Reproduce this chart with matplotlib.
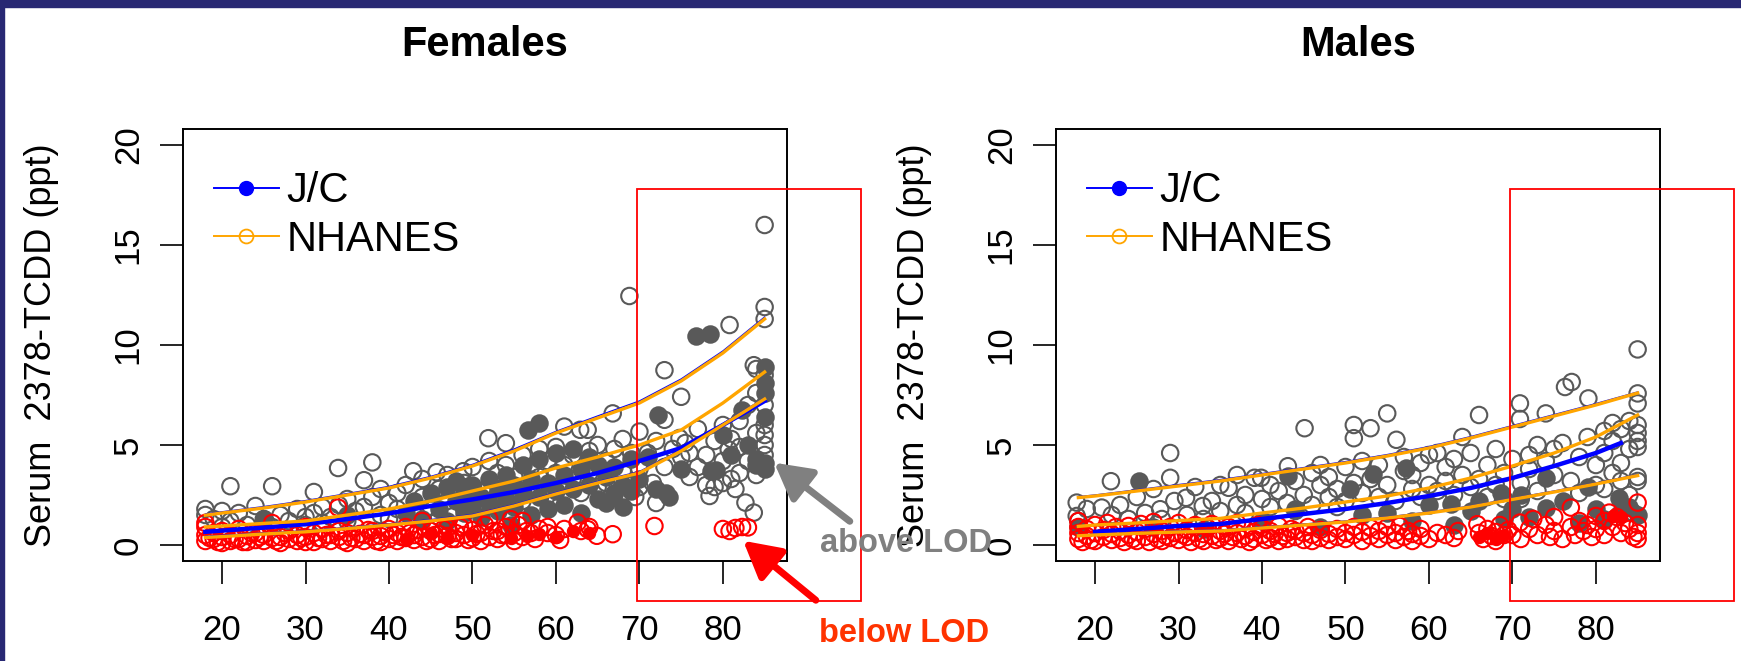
import numpy as np
import matplotlib.pyplot as plt
from matplotlib.lines import Line2D
from matplotlib.patches import Rectangle, FancyArrowPatch

plt.rcParams['font.family'] = ['Liberation Sans', 'DejaVu Sans']

# ---------------- data ----------------
x_ticks = [20, 30, 40, 50, 60, 70, 80]
y_ticks = [0, 5, 10, 15, 20]
titles = ["Females", "Males"]
legend_labels = ["J/C", "NHANES"]

# fitted percentile curves (age, ppt)
line_ages = [18, 20, 25, 30, 35, 40, 45, 50, 55, 60, 65, 70, 75, 80, 85]
fem_nh_upper = [1.49, 1.6, 1.85, 2.15, 2.5, 2.85, 3.35, 3.95, 4.7, 5.6, 6.35, 7.1, 8.2, 9.6, 11.3]
fem_nh_mid = [0.9, 0.95, 1.08, 1.2, 1.5, 1.8, 2.2, 2.7, 3.2, 3.85, 4.4, 5.0, 5.75, 7.1, 8.65]
fem_nh_lower = [0.38, 0.42, 0.55, 0.66, 0.82, 1.0, 1.2, 1.45, 1.95, 2.55, 3.1, 3.6, 4.7, 6.0, 7.3]
fem_jc_upper = [1.55, 1.66, 1.92, 2.22, 2.57, 2.93, 3.43, 4.03, 4.8, 5.68, 6.45, 7.2, 8.3, 9.7, 11.4]
fem_jc_mid = [0.66, 0.72, 0.87, 1.04, 1.3, 1.58, 1.95, 2.28, 2.65, 3.1, 3.6, 4.2, 4.85, 6.0, 7.2]
fem_jc_lower = [0.44, 0.48, 0.6, 0.71, 0.88, 1.06, 1.27, 1.52, 2.02, 2.62, 3.17, 3.67, 4.77, 6.07, 7.35]

male_nh_upper = [2.37, 2.45, 2.7, 2.95, 3.2, 3.5, 3.8, 4.1, 4.45, 4.85, 5.35, 5.9, 6.45, 7.0, 7.6]
male_nh_mid = [0.93, 1.0, 1.1, 1.22, 1.33, 1.6, 1.85, 2.15, 2.45, 2.85, 3.35, 3.95, 4.6, 5.4, 6.5]
male_nh_lower = [0.46, 0.5, 0.58, 0.65, 0.7, 0.85, 1.0, 1.15, 1.35, 1.6, 1.9, 2.28, 2.65, 3.05, 3.47]
male_jc_upper = [2.42, 2.5, 2.76, 3.02, 3.27, 3.57, 3.87, 4.17, 4.52, 4.92, 5.42, 5.97, 6.52, 7.07, 7.65]
male_jc_lower = [0.5, 0.54, 0.62, 0.7, 0.75, 0.9, 1.05, 1.2, 1.4, 1.65, 1.95, 2.33, 2.7, 3.1, 3.52]
male_mid_ages = [20, 25, 30, 35, 40, 45, 50, 55, 60, 65, 70, 75, 80, 83]
male_jc_mid = [0.66, 0.8, 0.95, 1.05, 1.3, 1.55, 1.8, 2.1, 2.45, 2.85, 3.35, 3.95, 4.6, 5.1]

# Females: NHANES above LOD (open gray)
fem_nh_above = [
    (18, 1.8), (18, 1.5), (19, 1.3), (20, 1.7), (20, 0.9), (21, 2.94), (21, 1.2), (22, 1.6),
    (23, 1.0), (24, 1.95), (25, 1.3), (26, 2.94), (26, 0.9), (27, 1.5), (28, 1.2), (29, 1.8),
    (30, 1.4), (30, 1.0), (31, 2.65), (31, 1.6), (32, 1.9), (32, 1.1), (33, 1.4), (33.9, 3.85),
    (34, 2.0), (35, 1.2), (35, 2.3), (36, 1.7), (37, 3.24), (37, 1.9), (38, 4.13), (38, 2.4),
    (39, 1.5), (39, 2.8), (40, 2.1), (40, 1.3), (41, 2.6), (41, 1.8), (42, 3.0), (42.9, 3.69),
    (43, 1.5), (44, 2.4), (44, 3.3), (45, 1.9), (45.7, 3.64), (46, 2.8), (46, 1.4), (47, 3.5),
    (47, 2.2), (48, 2.7), (48.9, 3.69), (49, 1.8), (49, 3.1), (50, 2.4), (50, 3.9), (51, 2.0),
    (51.9, 5.34), (52, 3.0), (52, 4.2), (53, 2.5), (53, 3.6), (54, 5.09), (54, 2.1), (54, 4.0),
    (55, 2.8), (55, 3.4), (56, 4.5), (56, 2.2), (57, 3.9), (57, 2.9), (58, 4.8), (58, 3.4),
    (59, 2.5), (59, 4.2), (60, 3.6), (60, 4.9), (60, 2.2), (61, 5.92), (61, 4.0), (61, 3.0),
    (62, 4.5), (62, 3.3), (62.9, 5.76), (63, 2.6), (63.8, 5.76), (64, 4.7), (64, 3.6), (65, 2.9),
    (65, 5.0), (66, 4.2), (66, 3.1), (66.8, 6.58), (67, 4.8), (67, 2.5), (68, 3.7), (68, 5.3),
    (68.8, 12.45), (69, 3.0), (69, 4.6), (69.5, 2.4), (70, 5.67), (70, 3.8), (70, 2.9), (71, 4.6),
    (71.6, 3.1), (72, 5.2), (72, 2.1), (73, 8.74), (73, 6.26), (73, 3.9), (74, 4.8), (74.8, 5.35),
    (75, 7.41), (75, 4.4), (75.5, 5.1), (76, 3.4), (76, 4.6), (77, 5.8), (77, 3.9), (78, 4.5),
    (78.4, 2.45), (78, 3.0), (79, 5.2), (79, 2.9), (80, 3.1), (80, 4.2), (80, 6.0), (80.7, 4.77),
    (80.8, 11.0), (81, 3.3), (81, 5.3), (81.5, 2.8), (82, 3.6), (82, 4.9), (82, 6.2), (82.7, 2.12),
    (83, 4.2), (83, 7.0), (83.7, 8.99), (83.7, 1.62), (84, 3.5), (84, 5.6), (84, 7.6), (84, 8.8),
    (85, 16.0), (85, 11.9), (85, 11.3), (85, 8.5), (85, 7.0), (85, 6.0), (85, 5.5), (85, 5.0),
    (85, 4.5), (85, 3.9),
]
# Females: J/C above LOD (filled gray)
fem_jc_above = [
    (25, 1.3), (35, 1.5), (42, 1.6), (43, 2.2), (44, 1.3), (45, 2.6), (46, 1.8), (47, 2.9),
    (47, 1.2), (48, 2.2), (48, 3.2), (49, 1.6), (49, 2.6), (50, 3.0), (50, 1.9), (51, 2.4),
    (51, 1.4), (52, 3.3), (52, 2.1), (53, 1.7), (53, 2.8), (54, 3.5), (54, 2.3), (54.6, 1.0),
    (55, 1.9), (55, 3.0), (56, 2.6), (56, 4.0), (56.7, 5.76), (57, 1.5), (57, 3.3), (58, 6.09),
    (58, 2.4), (58, 4.3), (59, 3.1), (59, 1.8), (60, 2.7), (60, 4.6), (61, 3.5), (61, 2.0),
    (62, 4.8), (62, 2.8), (63, 3.8), (63, 1.6), (64, 3.0), (64, 4.4), (65, 2.3), (65, 4.0),
    (66, 3.4), (66, 2.1), (67, 3.9), (67, 2.6), (68, 3.0), (68, 1.9), (69, 4.3), (69, 2.7),
    (70, 3.3), (71, 4.4), (72.2, 6.5), (72, 2.8), (73.2, 2.6), (73.6, 2.4), (75, 3.8),
    (76.8, 10.45), (78.4, 10.55), (78.6, 3.7), (79.2, 3.75), (80, 5.5), (81, 4.5), (82.3, 6.75),
    (83, 5.0), (84, 4.3), (85, 8.9), (85, 8.1), (85, 7.6), (85, 6.4), (85, 4.1), (85, 3.8), (84, 4.0),
]
# Females: below LOD (open red) and J/C below LOD (filled red)
fem_below = [
    (18, 0.2), (18, 0.5), (18, 0.9), (18, 1.1), (18.5, 0.35), (19, 0.3), (19, 0.6), (19.5, 0.15),
    (20, 0.1), (20, 0.4), (20, 0.7), (21, 0.2), (21, 0.5), (21.5, 0.3), (22, 0.3), (22, 0.8),
    (22.5, 0.15), (23, 0.15), (23, 0.45), (23.5, 0.6), (24, 0.25), (24, 0.6), (24.5, 0.4),
    (25, 0.2), (25, 0.5), (26, 0.35), (26, 1.1), (26.5, 0.2), (27, 0.1), (27, 0.4), (27.5, 0.6),
    (28, 0.3), (28, 0.7), (29, 0.2), (29, 0.5), (29.5, 0.35), (30, 0.4), (30, 0.9), (30, 0.15),
    (31, 0.15), (31, 0.6), (31.5, 0.35), (32, 0.3), (32, 0.8), (32.5, 0.5), (33, 0.2), (33, 0.5),
    (33.9, 1.87), (34, 0.4), (34, 0.7), (34.5, 0.2), (35, 0.1), (35, 0.6), (35.5, 0.35), (36, 0.3),
    (36, 0.9), (36.5, 0.55), (37, 0.2), (37, 0.5), (37.5, 0.75), (38, 0.4), (38, 0.7), (38.5, 0.2),
    (39, 0.15), (39, 0.45), (39.5, 0.65), (40, 0.3), (40, 0.8), (40.5, 0.5), (41, 0.2), (41, 0.6),
    (41.5, 0.4), (42, 0.35), (42, 0.9), (42.5, 0.6), (43, 0.25), (43, 0.5), (43.5, 0.75), (44, 0.4),
    (44, 1.2), (44.5, 0.2), (45, 0.3), (45, 0.7), (45.5, 0.5), (46, 0.2), (46, 0.55), (46.5, 0.8),
    (47, 0.45), (47, 0.85), (47.5, 0.3), (48, 0.3), (48, 0.6), (48.5, 0.9), (49, 0.5), (49, 1.0),
    (49.5, 0.25), (50, 0.35), (50, 0.75), (50.5, 0.55), (51, 0.2), (51, 0.6), (51.5, 1.0),
    (52, 0.4), (52, 1.3), (52.5, 0.7), (53, 0.3), (53, 0.7), (53.5, 0.5), (54, 0.5), (54, 0.9),
    (54.6, 1.29), (55, 0.2), (55, 0.6), (55.5, 1.0), (56, 0.4), (56, 1.2), (56.5, 0.7), (57, 0.6),
    (57.5, 0.3), (58, 0.8), (59, 0.9), (59, 0.6), (60, 0.5), (60.5, 0.25), (61, 0.8), (62.6, 1.12),
    (63, 0.7), (63.8, 0.79), (64.9, 0.46), (64, 0.9), (66.8, 0.54), (71.8, 0.95), (80, 0.8),
    (80.8, 0.7), (81.5, 0.85), (82.3, 0.9), (83, 0.88),
]
fem_jc_below = [(42, 0.3), (45, 0.6), (47, 0.4), (50, 0.5), (54.6, 0.33), (56.5, 0.46), (58, 0.55),
                (60, 0.4), (62, 0.7), (64, 0.6)]

# Males
male_nh_above = [
    (17.8, 2.12), (17.8, 1.45), (18, 1.2), (19, 1.8), (20.8, 1.87), (21.9, 3.19), (22, 1.5),
    (23, 2.0), (24, 1.3), (25, 2.4), (26, 1.6), (27, 2.8), (27.8, 1.79), (28, 1.3), (29, 4.6),
    (29, 3.36), (29.5, 2.2), (30.9, 2.36), (31, 1.5), (32, 2.9), (32.9, 1.95), (33, 1.3), (34, 2.2),
    (35, 3.0), (35, 1.7), (36, 2.86), (37, 2.0), (37, 3.5), (38, 2.5), (38, 1.6), (39.1, 3.36),
    (39.9, 3.36), (40, 2.3), (41, 1.9), (41, 3.0), (42, 2.7), (43.1, 3.94), (43, 2.1), (44, 3.2),
    (44, 1.7), (45.1, 5.84), (45, 2.5), (46, 3.6), (46, 2.0), (47, 3.0), (47, 4.0), (48, 2.4),
    (48, 3.4), (49, 2.8), (49, 1.9), (50, 3.9), (50, 2.2), (51, 6.0), (51, 5.34), (51, 3.1),
    (52, 4.2), (52, 2.6), (53, 5.84), (53, 3.3), (54, 2.4), (54, 4.0), (55, 6.58), (55, 3.0),
    (56.1, 5.26), (56, 2.2), (57, 3.7), (57, 4.4), (58, 2.8), (58, 3.5), (59, 4.1), (59, 2.4),
    (60, 3.0), (60, 4.5), (61, 4.6), (61, 2.7), (62, 3.9), (62, 3.2), (63, 4.3), (63, 2.5),
    (64, 5.4), (64, 3.5), (65, 4.6), (65, 2.9), (66, 6.5), (66, 3.3), (67, 4.0), (67, 2.4),
    (68, 4.8), (68, 3.0), (69, 3.6), (69, 2.3), (70, 4.3), (70.9, 7.08), (70.9, 6.3), (71, 3.1),
    (71, 2.3), (72, 4.5), (72, 3.8), (73, 5.0), (73, 2.7), (74, 6.58), (74, 4.2), (75, 3.5),
    (75, 4.8), (76.3, 7.9), (77.1, 8.15), (76, 5.1), (77, 3.2), (78, 4.4), (78, 2.6), (79.1, 7.33),
    (79, 5.4), (80, 4.0), (80, 3.0), (81, 5.7), (81, 4.6), (81, 2.8), (82, 5.2), (82, 3.6),
    (82, 6.1), (83, 4.1), (83, 5.8), (83, 3.2), (84, 4.8), (84, 6.2), (84, 2.5), (85, 9.78),
    (85, 7.58), (85, 7.08), (85, 6.0), (85, 5.6), (85, 5.2), (85, 4.9), (85, 3.4), (85, 3.2),
    (84.5, 1.6),
]
male_jc_above = [
    (18, 0.9), (25.3, 3.19), (27, 0.9), (33, 0.8), (40, 1.2), (43.1, 3.44), (44, 1.8), (47, 0.9),
    (50.5, 2.78), (52, 1.5), (53.3, 3.57), (55, 1.6), (57.3, 3.85), (58, 1.2), (60, 2.0),
    (62.7, 2.03), (63, 1.0), (65, 1.7), (66, 2.2), (68.6, 2.6), (69, 1.3), (70, 1.8), (71, 2.5),
    (72, 1.4), (74, 3.36), (74, 1.87), (76, 2.2), (78, 1.1), (79, 2.9), (80, 1.8), (81, 1.3),
    (82.8, 2.36), (82.8, 1.54), (84, 1.9), (85, 1.5),
]
male_below = [
    (18, 0.3), (18, 0.6), (18, 0.9), (18, 1.2), (18.5, 0.15), (19, 0.45), (19, 0.8), (19.5, 0.25),
    (20, 0.6), (20, 1.0), (20, 0.2), (21, 0.4), (21, 0.75), (21.5, 1.1), (22, 0.25), (22, 0.55),
    (22.5, 0.9), (23, 0.35), (23, 0.7), (23.5, 0.15), (24, 0.5), (24, 0.95), (24.5, 0.3),
    (25, 0.2), (25, 0.65), (25.5, 1.05), (26, 0.4), (26, 0.8), (26.5, 0.15), (27, 0.55),
    (27, 1.15), (27.5, 0.3), (28, 0.2), (28, 0.7), (28.5, 0.45), (29, 0.35), (29, 0.9),
    (29.5, 0.6), (30, 0.25), (30, 1.1), (30.5, 0.5), (31, 0.4), (31, 0.75), (31.5, 0.15),
    (32, 0.6), (32, 1.0), (32.5, 0.3), (33, 0.2), (33, 0.55), (33.5, 0.85), (34, 0.45), (34, 1.05),
    (34.5, 0.25), (35, 0.35), (35, 0.7), (35.5, 0.55), (36, 0.2), (36, 0.9), (36.5, 0.4), (37, 0.6),
    (37, 1.1), (37.5, 0.3), (38, 0.45), (38, 0.8), (38.5, 0.15), (39, 0.3), (39, 0.65),
    (39.5, 1.0), (40, 0.5), (40, 0.85), (40.5, 0.25), (41, 0.35), (41, 0.7), (41.5, 0.55),
    (42, 0.2), (42, 0.95), (42.5, 0.45), (43, 0.6), (43, 0.3), (43.5, 0.8), (44, 0.4), (44, 0.7),
    (45, 0.25), (45, 0.6), (45.5, 0.9), (46, 0.5), (46, 0.2), (47, 0.35), (47, 0.75), (48, 0.55),
    (48, 0.25), (49, 0.4), (49, 0.8), (50, 0.6), (50, 0.3), (51, 0.5), (51, 0.9), (52, 0.2),
    (52, 0.65), (53, 0.45), (53, 0.85), (54, 0.3), (54, 0.7), (55, 0.5), (55, 0.9), (56, 0.25),
    (56, 0.6), (56.5, 0.95), (57, 0.4), (57.5, 0.7), (58, 0.2), (58, 0.55), (59, 0.45), (59, 0.8),
    (60, 0.3), (61, 0.6), (62, 0.5), (63, 0.35), (63.5, 0.7), (65.8, 1.04), (66, 0.6), (66.5, 0.3),
    (67, 0.8), (67.5, 0.45), (68, 0.65), (68, 0.2), (68.5, 1.0), (69, 0.5), (69.5, 0.75),
    (70, 0.5), (70.9, 1.12), (71, 0.3), (72, 0.8), (72.5, 1.3), (73, 0.5), (74, 1.0), (74.5, 0.4),
    (75, 1.4), (75, 0.7), (76, 0.3), (77, 1.87), (77, 0.9), (77.5, 0.5), (78, 1.2), (78.5, 0.7),
    (79, 1.0), (79.5, 0.4), (80, 1.45), (80, 0.8), (81, 1.2), (81.6, 1.62), (81, 0.5), (82, 0.9),
    (82.5, 1.4), (83, 0.6), (83.5, 1.1), (84, 0.8), (84.5, 0.4), (85, 2.12), (85, 1.0), (85, 0.6),
    (85, 0.3),
]
male_jc_below = [(66, 0.4), (67, 0.6), (68, 0.3), (69, 0.5), (82, 1.45), (83, 1.4)]

GRAY = '#595959'
RED = '#ff0000'
BLUE = '#0000ff'
ORANGE = '#ffa500'
FS = 25
MS = 140  # scatter marker area

fig = plt.figure(figsize=(17.41, 6.61), dpi=100)
W, H = 1741, 661

# navy slide frame
fig.patches.append(Rectangle((0, 654 / H), 1, 7 / H, transform=fig.transFigure,
                             color='#282873', zorder=0))
fig.patches.append(Rectangle((0, 0), 4 / W, 1, transform=fig.transFigure,
                             color='#282873', zorder=0))


def pts(lst):
    a = np.array(lst, dtype=float)
    return a[:, 0], a[:, 1]


def panel(left_px, title, nh_above, jc_above, below, jc_below, curves):
    ax = fig.add_axes([left_px / W, 1 - 561 / H, 604 / W, 432 / H])
    ax.set_xlim(15.32, 87.68)
    ax.set_ylim(-0.8, 20.8)

    x, y = pts(nh_above)
    ax.scatter(x, y, s=MS, facecolors='none', edgecolors=GRAY, linewidths=1.5, zorder=2)
    x, y = pts(jc_above)
    ax.scatter(x, y, s=MS, facecolors=GRAY, edgecolors=GRAY, linewidths=1.5, zorder=2)
    x, y = pts(below)
    ax.scatter(x, y, s=MS, facecolors='none', edgecolors=RED, linewidths=1.5, zorder=3)
    x, y = pts(jc_below)
    ax.scatter(x, y, s=75, facecolors=RED, edgecolors=RED, linewidths=1.0, zorder=3)

    for xs, ys, col, lw in curves:
        ax.plot(xs, ys, color=col, lw=lw, zorder=4)

    ax.set_xticks(x_ticks)
    ax.set_yticks(y_ticks)
    ax.tick_params(labelsize=FS, length=16.5, width=1.2, direction='out')
    ax.tick_params(axis='x', pad=22)
    ax.tick_params(axis='y', pad=11)
    plt.setp(ax.get_yticklabels(), rotation=90, va='center')
    for s in ax.spines.values():
        s.set_linewidth(1.4)

    ax.set_ylabel("Serum  2378-TCDD (ppt)", fontsize=26)
    ax.yaxis.set_label_coords(-0.205, 0.5)
    ax.text(0.5, 1.194, title, transform=ax.transAxes, ha='center', va='center',
            fontsize=30, fontweight='bold')

    handles = [Line2D([], [], color=BLUE, lw=1.4, marker='o', ms=10, mfc=BLUE, mec=BLUE),
               Line2D([], [], color=ORANGE, lw=1.4, marker='o', ms=10, mfc='none',
                      mec=ORANGE, mew=1.3)]
    ax.legend(handles, legend_labels, loc='upper left', bbox_to_anchor=(0.051, 0.902),
              frameon=False, fontsize=30, handlelength=1.56, handletextpad=0.18,
              labelspacing=0.2, borderpad=0, borderaxespad=0)

    ax.add_patch(Rectangle((69.7, -2.8), 26.9, 20.6, fill=False, edgecolor=RED,
                           lw=1.3, clip_on=False, zorder=6))
    return ax


fem_curves = [
    (line_ages, fem_jc_upper, BLUE, 1.0), (line_ages, fem_jc_lower, BLUE, 1.0),
    (line_ages, fem_jc_mid, BLUE, 3.2),
    (line_ages, fem_nh_upper, ORANGE, 2.4), (line_ages, fem_nh_mid, ORANGE, 2.4),
    (line_ages, fem_nh_lower, ORANGE, 2.4),
]
male_curves = [
    (line_ages, male_jc_upper, BLUE, 1.0), (line_ages, male_jc_lower, BLUE, 1.0),
    (male_mid_ages, male_jc_mid, BLUE, 3.2),
    (line_ages, male_nh_upper, ORANGE, 2.4), (line_ages, male_nh_mid, ORANGE, 2.4),
    (line_ages, male_nh_lower, ORANGE, 2.4),
]

panel(183, titles[0], fem_nh_above, fem_jc_above, fem_below, fem_jc_below, fem_curves)
panel(1056, titles[1], male_nh_above, male_jc_above, male_below, male_jc_below, male_curves)

# LOD annotations (figure pixel coordinates)
fig.text(906 / W, 1 - 544 / H, "above LOD", color='#808080', fontsize=23.5,
         fontweight='bold', ha='center', va='center', zorder=10)
fig.text(904 / W, 1 - 633 / H, "below LOD", color='#ff3300', fontsize=23.5,
         fontweight='bold', ha='center', va='center', zorder=10)
fig.add_artist(FancyArrowPatch(
    (852 / W, 1 - 523 / H), (772 / W, 1 - 461 / H), transform=fig.transFigure,
    arrowstyle='-|>,head_length=1.0,head_width=0.55', mutation_scale=22,
    color='#808080', lw=5, zorder=9))
fig.add_artist(FancyArrowPatch(
    (818 / W, 1 - 602 / H), (741 / W, 1 - 539 / H), transform=fig.transFigure,
    arrowstyle='-|>,head_length=1.0,head_width=0.55', mutation_scale=22,
    color='#ff0000', lw=5, zorder=9))

fig.savefig('out.png', dpi=100)
